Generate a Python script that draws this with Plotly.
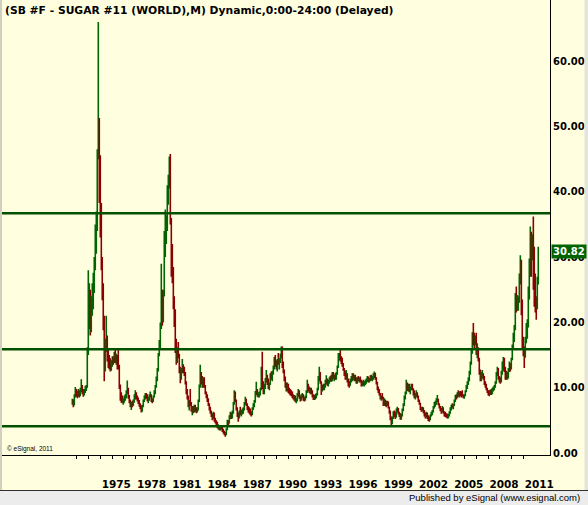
import plotly.graph_objects as go
import pandas as pd

TITLE = "(SB #F - SUGAR #11 (WORLD),M) Dynamic,0:00-24:00 (Delayed)"
START = "1972-09-01"
OPEN0 = 7.6

HIGH = [
    8.3, 8.2, 9.0, 10.1,
    9.8, 9.5, 9.8, 9.6, 10.0, 11.3, 10.4, 9.8, 9.8, 10.3, 10.4, 16.2,
    28.0, 26.0, 25.0, 24.0, 26.0, 27.6, 30.0, 35.0, 37.0, 46.5, 66.0, 51.3,
    45.6, 38.3, 30.0, 26.0, 21.0, 17.5, 21.0, 18.0, 16.0, 15.0, 14.5, 14.2,
    14.8, 14.8, 15.5, 16.0, 15.2, 15.0, 16.0, 13.5, 10.5, 9.3, 8.8, 8.4,
    8.8, 9.0, 9.6, 11.1, 10.0, 8.9, 8.2, 7.8, 8.0, 8.2, 9.0, 9.6,
    9.3, 8.8, 8.5, 8.1, 7.6, 7.3, 7.4, 8.2, 8.8, 9.2, 9.2, 9.0,
    8.6, 9.0, 9.4, 9.0, 8.4, 8.8, 9.6, 10.4, 11.7, 13.0, 15.3, 17.3,
    20.0, 29.0, 25.0, 25.0, 34.0, 37.3, 36.4, 41.0, 42.6, 45.4, 45.8, 36.0,
    32.0, 28.5, 24.0, 22.0, 17.5, 16.2, 17.0, 15.2, 13.2, 13.0, 14.4, 13.6,
    13.2, 12.4, 11.0, 9.8, 8.8, 8.1, 9.8, 7.8, 7.2, 7.2, 7.4, 7.4,
    7.0, 7.0, 8.2, 10.5, 13.5, 12.4, 11.8, 11.6, 11.6, 10.4, 9.4, 9.0,
    8.4, 7.6, 7.1, 6.5, 6.1, 6.3, 6.2, 5.4, 5.0, 4.8, 4.4, 4.3,
    4.1, 4.3, 4.0, 3.7, 3.4, 3.2, 3.8, 5.1, 5.0, 5.8, 6.3, 6.2,
    6.5, 7.8, 9.6, 9.4, 8.2, 7.0, 6.2, 6.5, 7.1, 6.6, 6.8, 7.0,
    7.8, 8.6, 8.3, 7.6, 7.2, 7.0, 6.8, 6.4, 7.0, 7.6, 8.1, 9.5,
    10.9, 9.8, 9.3, 9.4, 10.0, 13.2, 15.5, 11.0, 10.6, 11.5, 12.7, 12.0,
    11.4, 10.8, 12.2, 12.5, 12.6, 13.4, 14.7, 15.0, 14.2, 14.4, 15.3, 14.5,
    15.2, 16.3, 16.3, 14.0, 12.8, 11.7, 10.8, 10.8, 10.6, 10.0, 9.8, 9.6,
    9.4, 9.0, 8.9, 8.8, 8.4, 9.2, 9.8, 9.6, 8.8, 9.0, 9.2, 9.0,
    8.6, 8.8, 9.6, 11.2, 10.6, 10.2, 10.0, 10.0, 9.6, 9.0, 8.9, 9.0,
    9.2, 10.0, 11.8, 13.2, 12.4, 11.0, 10.4, 10.6, 10.6, 11.2, 11.9, 11.4,
    11.2, 11.6, 11.8, 12.0, 12.4, 12.4, 12.0, 12.2, 12.4, 13.4, 15.3, 15.3,
    15.8, 14.8, 14.6, 13.8, 13.0, 12.6, 12.7, 12.2, 11.4, 11.0, 11.4, 11.8,
    12.2, 12.2, 12.0, 12.0, 11.6, 11.6, 11.8, 11.6, 11.7, 11.2, 11.0, 11.2,
    11.0, 11.2, 11.4, 11.8, 11.7, 11.5, 11.9, 12.0, 11.8, 12.2, 12.5, 12.3,
    11.6, 10.9, 10.2, 9.8, 9.2, 8.8, 9.2, 8.6, 8.4, 8.2, 8.0, 8.0,
    7.9, 7.1, 6.5, 5.6, 5.6, 6.4, 6.5, 6.3, 6.8, 7.1, 6.9, 6.3,
    6.1, 6.0, 6.8, 7.6, 8.8, 9.4, 11.2, 10.8, 10.6, 10.6, 10.2, 10.6,
    10.6, 9.9, 9.6, 9.2, 9.6, 9.3, 8.8, 8.2, 7.7, 7.1, 7.1, 7.0,
    6.6, 6.2, 6.3, 6.2, 5.8, 5.6, 5.9, 6.3, 6.6, 7.2, 7.8, 8.0,
    8.4, 8.9, 8.3, 7.6, 7.2, 6.9, 7.2, 7.0, 6.4, 6.3, 6.1, 6.0,
    6.0, 6.4, 7.0, 7.4, 7.6, 7.5, 8.2, 8.9, 9.0, 9.3, 9.6, 9.4,
    9.5, 9.4, 9.6, 9.0, 9.0, 9.6, 10.4, 11.0, 11.6, 12.6, 14.0, 15.8,
    18.5, 19.9, 18.4, 18.0, 18.4, 16.8, 16.2, 14.6, 12.8, 12.4, 12.7, 12.2,
    11.8, 11.0, 10.6, 10.0, 9.6, 9.6, 9.7, 9.8, 10.0, 10.2, 10.4, 11.0,
    12.4, 13.2, 13.0, 11.8, 11.6, 12.6, 14.0, 14.7, 14.6, 13.2, 12.6, 12.4,
    13.0, 14.0, 13.8, 14.6, 16.6, 18.4, 19.6, 24.5, 25.5, 24.2, 24.0, 27.5,
    30.3, 29.6, 23.5, 17.8, 16.3, 17.8, 19.9, 20.5, 25.5, 29.8, 34.7, 33.9,
    33.5, 36.2, 31.6, 27.5, 24.0, 27.0, 31.6,
]

LOW = [
    7.4, 7.0, 7.3, 8.5,
    8.6, 8.4, 8.6, 8.5, 8.7, 9.3, 9.0, 8.6, 8.8, 9.2, 9.5, 10.5,
    15.0, 19.0, 18.0, 18.5, 21.0, 22.0, 24.5, 28.0, 30.5, 34.0, 45.0, 38.3,
    33.0, 28.0, 23.4, 18.8, 11.0, 12.5, 15.5, 14.0, 13.0, 12.8, 12.5, 12.6,
    13.2, 13.5, 13.8, 13.8, 13.5, 12.8, 12.8, 9.8, 8.0, 7.7, 7.6, 7.4,
    7.7, 8.0, 8.4, 9.0, 8.3, 7.6, 7.0, 6.6, 7.0, 7.2, 7.7, 8.2,
    8.2, 7.9, 7.5, 7.1, 6.7, 6.2, 6.3, 7.0, 7.8, 8.2, 8.3, 7.9,
    7.6, 8.0, 8.5, 7.8, 7.6, 7.8, 8.5, 9.0, 10.0, 11.0, 12.5, 14.8,
    16.0, 19.0, 19.5, 20.0, 24.0, 30.0, 32.0, 34.0, 38.0, 40.5, 35.0, 27.0,
    26.0, 22.0, 19.3, 15.3, 13.5, 13.8, 14.5, 12.2, 10.7, 11.2, 12.2, 12.2,
    11.8, 10.5, 9.0, 8.2, 7.0, 6.5, 7.2, 6.3, 5.8, 6.1, 6.2, 6.3,
    6.1, 6.2, 6.5, 7.8, 10.0, 10.5, 10.0, 10.0, 10.0, 9.0, 8.4, 7.8,
    7.2, 6.5, 6.0, 5.5, 5.0, 5.2, 4.8, 4.5, 4.1, 3.8, 3.6, 3.5,
    3.4, 3.6, 3.2, 3.0, 2.7, 2.5, 2.7, 3.5, 4.2, 4.5, 5.2, 5.2,
    5.3, 6.0, 7.4, 7.8, 6.5, 5.5, 4.8, 5.3, 5.8, 5.6, 5.9, 6.0,
    6.5, 7.4, 7.2, 6.6, 6.2, 6.0, 5.8, 5.6, 5.8, 6.6, 7.0, 7.7,
    8.9, 8.6, 8.5, 8.5, 8.8, 9.6, 9.8, 9.0, 9.0, 9.8, 10.8, 10.4,
    9.8, 9.6, 10.4, 11.2, 11.0, 12.0, 12.8, 13.2, 12.8, 12.5, 13.5, 12.8,
    13.8, 14.5, 13.0, 12.2, 11.0, 10.0, 9.4, 9.4, 9.2, 9.0, 8.8, 8.7,
    8.4, 8.2, 8.0, 7.8, 7.6, 7.9, 8.6, 8.3, 7.9, 8.0, 8.4, 8.0,
    7.9, 8.0, 8.4, 9.2, 9.4, 9.2, 9.0, 9.0, 8.5, 8.1, 8.1, 8.2,
    8.4, 8.8, 9.6, 11.0, 10.6, 8.9, 9.4, 9.6, 9.6, 10.0, 10.5, 10.3,
    10.2, 10.6, 10.9, 10.9, 11.0, 11.3, 11.0, 11.2, 11.2, 12.0, 13.0, 14.2,
    14.0, 13.6, 13.2, 12.6, 11.8, 11.2, 11.2, 10.8, 10.2, 10.0, 10.3, 10.8,
    11.0, 11.2, 11.0, 11.0, 10.6, 10.6, 11.0, 10.8, 10.8, 10.2, 10.2, 10.3,
    10.2, 10.4, 10.6, 10.9, 10.8, 10.8, 11.0, 11.1, 11.0, 11.2, 11.5, 11.2,
    10.5, 9.6, 9.2, 8.8, 8.2, 8.0, 8.2, 7.2, 7.2, 7.2, 7.0, 7.2,
    6.8, 6.0, 5.0, 4.0, 4.4, 5.2, 5.5, 5.2, 5.4, 6.2, 5.9, 5.5,
    5.1, 5.1, 5.6, 6.4, 7.2, 8.2, 9.0, 9.5, 9.4, 9.3, 9.0, 9.6,
    9.6, 8.8, 8.4, 8.2, 8.6, 8.4, 7.8, 7.4, 6.6, 6.3, 6.4, 6.1,
    5.6, 5.3, 5.4, 5.2, 4.9, 4.8, 5.0, 5.6, 5.8, 6.2, 6.8, 7.1,
    7.4, 7.8, 7.3, 6.8, 6.4, 6.0, 6.2, 6.0, 5.6, 5.5, 5.4, 5.3,
    5.3, 5.6, 6.0, 6.5, 6.8, 6.7, 7.2, 7.8, 8.2, 8.4, 8.6, 8.5,
    8.7, 8.5, 8.6, 8.4, 8.3, 8.7, 9.3, 9.8, 10.4, 11.0, 12.0, 13.5,
    15.2, 16.5, 16.0, 16.5, 15.0, 14.5, 14.0, 12.0, 11.0, 11.0, 11.4, 11.2,
    10.4, 10.0, 9.6, 9.2, 8.8, 8.7, 8.9, 8.9, 9.0, 9.4, 9.6, 10.0,
    10.6, 11.8, 11.2, 10.8, 10.6, 10.8, 12.0, 12.6, 12.4, 11.2, 11.2, 11.2,
    11.4, 12.4, 12.5, 12.8, 14.2, 15.8, 17.0, 18.8, 21.5, 21.8, 21.8, 23.0,
    25.8, 21.1, 16.0, 14.8, 13.0, 14.6, 16.8, 17.5, 19.2, 23.5, 27.0, 27.0,
    29.5, 25.0, 22.4, 21.5, 20.4, 22.0, 25.8,
]

CLOSE = [
    8.0, 7.3, 8.8, 9.4,
    9.0, 8.8, 9.3, 8.9, 9.5, 10.2, 9.4, 9.0, 9.3, 9.8, 10.0, 15.5,
    22.0, 23.0, 20.0, 22.0, 24.5, 25.0, 29.0, 33.0, 35.0, 45.5, 51.0, 41.5,
    36.0, 29.5, 25.0, 20.5, 14.0, 16.5, 17.5, 15.0, 14.0, 13.5, 13.2, 13.5,
    14.2, 14.0, 15.0, 14.3, 14.6, 13.2, 13.0, 10.2, 8.6, 8.2, 8.0, 8.1,
    8.5, 8.6, 9.3, 9.8, 8.6, 7.8, 7.4, 7.5, 7.4, 7.9, 8.6, 8.8,
    8.6, 8.3, 7.8, 7.4, 7.0, 6.6, 7.2, 8.0, 8.4, 8.9, 8.6, 8.0,
    8.3, 8.8, 8.8, 8.0, 8.0, 8.6, 9.4, 10.2, 11.3, 12.6, 15.0, 16.8,
    19.5, 24.0, 21.0, 24.0, 33.0, 34.5, 35.0, 40.5, 41.5, 44.5, 35.5, 29.0,
    27.5, 23.5, 20.5, 16.5, 14.5, 15.2, 15.0, 12.8, 11.5, 12.6, 13.2, 12.9,
    12.2, 10.8, 9.4, 8.5, 7.4, 7.6, 7.5, 6.6, 6.8, 6.4, 7.0, 6.7,
    6.5, 6.8, 7.9, 10.2, 12.2, 11.0, 10.4, 11.2, 10.3, 9.2, 8.6, 8.1,
    7.4, 6.8, 6.3, 5.8, 5.4, 6.0, 5.0, 4.8, 4.4, 4.0, 4.1, 3.7,
    3.9, 3.8, 3.5, 3.2, 2.9, 2.8, 3.6, 4.6, 4.5, 5.4, 5.8, 5.6,
    6.2, 7.6, 8.8, 8.0, 6.8, 5.8, 5.4, 6.2, 6.0, 6.3, 6.6, 6.7,
    7.6, 8.0, 7.4, 6.9, 6.5, 6.4, 6.1, 6.0, 6.8, 7.4, 7.8, 9.2,
    9.6, 8.9, 9.0, 9.1, 9.8, 12.8, 10.2, 9.4, 10.2, 11.2, 11.5, 11.0,
    10.2, 10.6, 11.8, 11.6, 12.4, 13.0, 14.2, 13.6, 13.2, 14.0, 13.8, 14.2,
    14.8, 15.8, 13.4, 12.6, 11.3, 10.4, 10.0, 10.2, 9.6, 9.4, 9.2, 9.0,
    8.7, 8.5, 8.6, 8.0, 8.1, 9.0, 9.4, 8.5, 8.4, 8.8, 8.9, 8.3,
    8.2, 8.6, 9.4, 10.4, 9.8, 9.4, 9.6, 9.2, 8.8, 8.4, 8.7, 8.5,
    9.0, 9.8, 11.6, 12.0, 10.8, 9.6, 10.2, 9.8, 10.4, 10.8, 11.2, 10.6,
    11.0, 11.3, 11.4, 11.1, 12.2, 11.6, 11.8, 11.6, 12.2, 13.2, 14.8, 15.1,
    14.4, 14.2, 13.6, 12.8, 12.4, 11.6, 12.0, 11.0, 10.6, 10.5, 11.2, 11.5,
    11.9, 11.5, 11.7, 11.2, 11.0, 11.4, 11.2, 11.4, 11.0, 10.6, 10.8, 10.6,
    10.8, 10.9, 11.2, 11.4, 11.0, 11.3, 11.6, 11.4, 11.6, 11.9, 12.1, 11.5,
    10.8, 9.9, 9.6, 9.0, 8.5, 8.6, 8.4, 7.5, 8.0, 7.6, 7.6, 7.8,
    7.0, 6.3, 5.2, 4.6, 5.4, 6.1, 6.0, 5.6, 6.6, 6.7, 6.1, 6.0,
    5.5, 5.8, 6.6, 7.4, 8.6, 9.2, 10.5, 9.9, 10.2, 9.6, 9.9, 10.2,
    9.8, 9.1, 8.6, 8.9, 9.1, 8.6, 8.0, 7.6, 6.9, 6.8, 6.9, 6.3,
    5.9, 5.6, 6.0, 5.4, 5.3, 5.2, 5.8, 6.0, 6.4, 7.0, 7.5, 7.6,
    8.2, 8.2, 7.5, 7.0, 6.6, 6.4, 6.9, 6.2, 5.9, 5.8, 5.7, 5.6,
    5.8, 6.2, 6.8, 7.2, 7.0, 7.3, 8.0, 8.6, 8.5, 9.0, 8.9, 9.1,
    9.0, 8.9, 8.8, 8.6, 8.8, 9.5, 10.1, 10.8, 11.3, 12.3, 13.8, 15.5,
    18.0, 17.5, 17.0, 17.2, 15.6, 15.8, 14.4, 12.4, 11.6, 11.8, 11.9, 11.7,
    10.6, 10.4, 9.9, 9.4, 9.2, 9.0, 9.5, 9.3, 9.8, 9.9, 10.2, 10.8,
    12.0, 12.8, 11.6, 11.3, 11.0, 12.3, 13.2, 13.6, 12.8, 11.8, 11.6, 11.8,
    12.8, 13.4, 13.2, 14.4, 16.2, 17.6, 19.2, 23.8, 22.8, 23.2, 23.6, 27.0,
    27.6, 22.0, 17.0, 15.6, 15.2, 17.4, 18.8, 19.8, 24.8, 29.0, 33.5, 30.0,
    32.5, 29.0, 27.0, 23.0, 22.5, 26.5, 30.82,
]

LEVELS = [36.7, 15.9, 4.1]
Y_TICKS = [0, 10, 20, 30, 40, 50, 60]
TICK_YEARS = list(range(1973, 2012))
LABEL_YEARS = [1975, 1978, 1981, 1984, 1987, 1990, 1993, 1996, 1999, 2002, 2005, 2008, 2011]

W, H = 588, 505
BG = "#FFFFE0"
GREEN = "#006400"
RED = "#8B0000"
LINE_GREEN = "#005200"
FONT = "Liberation Sans"
LABEL_FONT = "DejaVu Sans"

dates = pd.date_range(START, periods=len(CLOSE), freq="MS")
opens = [OPEN0] + CLOSE[:-1]
highs = [max(h, o, c) for h, o, c in zip(HIGH, opens, CLOSE)]
lows = [min(l, o, c) for l, o, c in zip(LOW, opens, CLOSE)]

fig = go.Figure()
fig.add_trace(go.Ohlc(
    x=dates, open=opens, high=highs, low=lows, close=CLOSE,
    increasing=dict(line=dict(color=GREEN, width=1.6)),
    decreasing=dict(line=dict(color=RED, width=1.6)),
    tickwidth=0.5, hoverinfo="skip", showlegend=False,
))
# empty trace so the tick/label axis is drawn
fig.add_trace(go.Scatter(x=[None], y=[None], xaxis="x2", yaxis="y",
                         showlegend=False, hoverinfo="skip"))

px_l, px_r, px_b = 2, 550, 455
x_dom = [px_l / W, px_r / W]
y_dom = [(H - px_b) / H, 1.0]

fig.update_layout(
    width=W, height=H,
    margin=dict(l=0, r=0, t=0, b=0, autoexpand=False),
    paper_bgcolor=BG, plot_bgcolor=BG,
    showlegend=False, hovermode=False,
    xaxis=dict(
        type="date", domain=x_dom, automargin=False,
        range=["1966-10-23", "2012-06-22"],
        rangeslider=dict(visible=False),
        showgrid=False, zeroline=False, showline=False,
        showticklabels=False, ticks="",
    ),
    xaxis2=dict(
        overlaying="x", anchor="y", side="bottom", domain=x_dom, automargin=False,
        range=[1966.634, 2013.272],
        tickmode="array", tickvals=TICK_YEARS,
        ticktext=[str(y) if y in LABEL_YEARS else "" for y in TICK_YEARS],
        ticks="outside", ticklen=3, tickcolor="black", tickwidth=1,
        showline=True, linecolor="black", linewidth=1,
        showgrid=False, zeroline=False,
        ticklabelshift=16, ticklabelstandoff=16,
        tickfont=dict(family=LABEL_FONT, size=10.5, color="black", weight="bold"),
    ),
    yaxis=dict(
        domain=y_dom, side="right", automargin=False,
        range=[(453 - px_b) / 6.53, 453 / 6.53],
        tickmode="array", tickvals=Y_TICKS, tickformat=".2f",
        ticks="", showline=True, linecolor="black", linewidth=1,
        showgrid=False, zeroline=False,
        ticklabelstandoff=0,
        tickfont=dict(family=LABEL_FONT, size=10, color="black", weight="bold"),
    ),
)

for lv in LEVELS:
    fig.add_shape(type="line", xref="x domain", yref="y", x0=0, x1=1, y0=lv, y1=lv,
                  line=dict(color=LINE_GREEN, width=2.5), layer="above")

# bottom status bar
fig.add_shape(type="rect", xref="paper", yref="paper", x0=0, x1=1, y0=0, y1=14.5 / H,
              fillcolor="#ECECEC", line=dict(width=0), layer="above")
fig.add_shape(type="line", xref="paper", yref="paper", x0=0, x1=1, y0=14.5 / H, y1=14.5 / H,
              line=dict(color="#303030", width=1), layer="above")
# right edge strip and left edge line
fig.add_shape(type="rect", xref="paper", yref="paper", x0=584.5 / W, x1=1, y0=15 / H, y1=1,
              fillcolor="#E4E4DC", line=dict(width=0), layer="above")
fig.add_shape(type="line", xref="paper", yref="paper", x0=1 / W, x1=1 / W, y0=15 / H, y1=1,
              line=dict(color="#A0A0A0", width=1), layer="above")

fig.add_annotation(text=TITLE, xref="paper", yref="paper", x=3 / W, y=1 - 10 / H,
                   xanchor="left", yanchor="middle", showarrow=False,
                   font=dict(family=LABEL_FONT, size=10.75, color="black", weight="bold"))
fig.add_annotation(text="© eSignal, 2011", xref="paper", yref="paper", x=5 / W, y=1 - 449 / H,
                   xanchor="left", yanchor="middle", showarrow=False,
                   font=dict(family=FONT, size=6.5, color="black"))
fig.add_annotation(text="Published by eSignal (www.esignal.com)", xref="paper", yref="paper",
                   x=582 / W, y=7.5 / H, xanchor="right", yanchor="middle", showarrow=False,
                   font=dict(family=FONT, size=9.5, color="black"))
fig.add_annotation(text=f"{CLOSE[-1]:.2f}", xref="paper", yref="y", x=550.5 / W, y=CLOSE[-1],
                   xanchor="left", yanchor="middle", showarrow=False,
                   bgcolor=GREEN, borderpad=1,
                   font=dict(family=LABEL_FONT, size=10, color="white", weight="bold"))

fig.write_html("out.html")
